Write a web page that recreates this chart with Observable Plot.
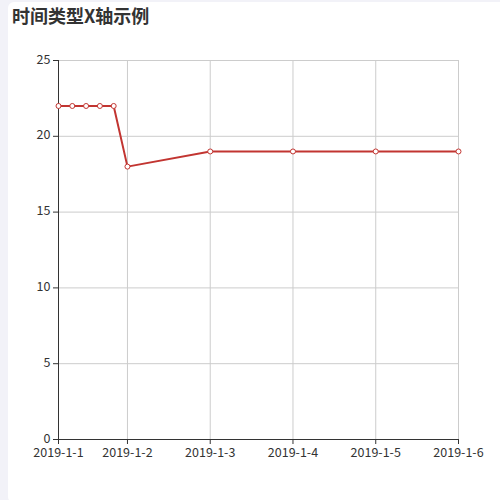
<!DOCTYPE html>
<html>
<head>
<meta charset="utf-8">
<script src="https://cdn.jsdelivr.net/npm/d3@7"></script>
<script src="https://cdn.jsdelivr.net/npm/@observablehq/plot@0.6"></script>
<style>
  html, body { margin: 0; padding: 0; width: 500px; height: 500px; overflow: hidden; background: #f2f2f8; }
  #card { position: absolute; left: 8px; top: 2px; width: 520px; height: 501px; background: #fff; border-radius: 6px 0 0 6px; }
  #wrap { position: absolute; left: 0; top: 0; width: 500px; }
  #title { height: 30px; box-sizing: border-box; padding: 4px 0 0 12px; font: bold 18px "Noto Sans CJK SC", sans-serif; color: #333; line-height: 22px; }
  svg { display: block; }
</style>
</head>
<body>
<div id="card"></div>
<div id="wrap">
  <div id="title">时间类型X轴示例</div>
  <div id="chart"></div>
</div>
<script>
const times = ["2019-01-01T04:00Z","2019-01-01T08:00Z","2019-01-01T12:00Z","2019-01-01T16:00Z","2019-01-01T20:00Z","2019-01-02T00:00Z","2019-01-03T00:00Z","2019-01-04T00:00Z","2019-01-05T00:00Z","2019-01-06T00:00Z"];
const values = [22, 22, 22, 22, 22, 18, 19, 19, 19, 19];
const xTickTimes = ["2019-01-01T04:00Z","2019-01-02T00:00Z","2019-01-03T00:00Z","2019-01-04T00:00Z","2019-01-05T00:00Z","2019-01-06T00:00Z"];
const yTicks = [0, 5, 10, 15, 20, 25];

const data = times.map((t, i) => ({t: new Date(t), v: values[i]}));
const xTicks = xTickTimes.map(t => new Date(t));
const xStart = xTicks[0], xEnd = xTicks[xTicks.length - 1];
const fmt = d => `${d.getUTCFullYear()}-${d.getUTCMonth() + 1}-${d.getUTCDate()}`;
const red = "#c23531";

const chart = Plot.plot({
  width: 500,
  height: 470,
  marginTop: 30,
  marginBottom: 61,
  marginLeft: 58,
  marginRight: 42,
  style: {fontSize: "12.5px", fontFamily: "'Noto Sans CJK SC', 'Noto Sans', sans-serif", color: "#333", background: "transparent"},
  x: {type: "utc", domain: [xStart, xEnd]},
  y: {domain: [0, 25]},
  marks: [
    Plot.gridY(yTicks, {stroke: "#ccc", strokeOpacity: 1}),
    Plot.gridX(xTicks.slice(1), {stroke: "#ccc", strokeOpacity: 1}),
    Plot.ruleX([xStart], {stroke: "#333"}),
    Plot.ruleY([0], {stroke: "#333"}),
    Plot.axisY(yTicks, {tickSize: 5, tickFormat: () => "", label: null, stroke: "#333"}),
    Plot.axisY(yTicks, {tickSize: 0, tickPadding: 8, label: null, dy: -1}),
    Plot.axisX(xTicks, {tickSize: 5, tickPadding: 4, tickFormat: fmt, label: null, stroke: "#333"}),
    Plot.line(data, {x: "t", y: "v", stroke: red, strokeWidth: 2}),
    Plot.dot(data, {x: "t", y: "v", r: 2.5, fill: "white", stroke: red, strokeWidth: 1})
  ]
});
document.getElementById("chart").appendChild(chart);
</script>
</body>
</html>
